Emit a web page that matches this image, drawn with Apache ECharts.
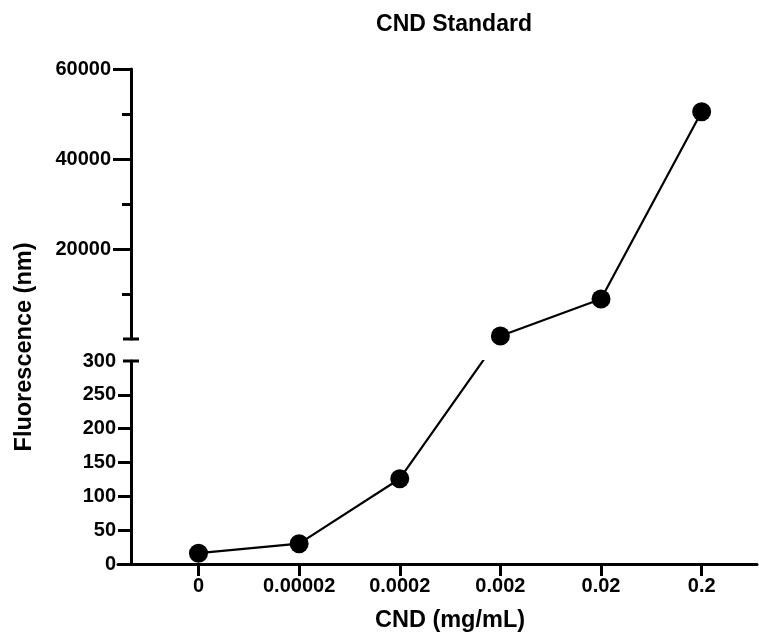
<!DOCTYPE html>
<html>
<head>
<meta charset="utf-8">
<script src="https://cdn.jsdelivr.net/npm/echarts@6.0.0/dist/echarts.min.js"></script>
<style>
html, body { margin: 0; padding: 0; background: #fff; }
#main { width: 759px; height: 636px; }
</style>
</head>
<body>
<div id="main"></div>
<script>
// data
var concentrations = ['0', '0.00002', '0.0002', '0.002', '0.02', '0.2'];
var fluorescence = [16, 30, 126, 650, 8900, 50500];
var lowTicks = [0, 50, 100, 150, 200, 250, 300];
var lowMinorTicks = [50, 100, 150, 200, 250];
var highTicks = [20000, 40000, 60000];
var lowMax = 300;
var highMax = 60000;

var FONT = 'Liberation Sans, Arial, sans-serif';
var xMin = -0.8, xMax = 5.55;
var yAxisShift = 13;

var xIdx = concentrations.map(function (c, i) { return i; });
var lowData = [], highData = [];
fluorescence.forEach(function (v, i) {
    if (v <= lowMax) lowData.push([i, v]);
    else highData.push([i, v]);
});

function labelStyle(extra) {
    var s = { color: '#000', fontFamily: FONT, fontWeight: 'bold', fontSize: 20 };
    for (var k in extra) s[k] = extra[k];
    return s;
}
var blackLine = { color: '#000', width: 3 };

var chart = echarts.init(document.getElementById('main'), null, { renderer: 'canvas' });

var option = {
    animation: false,
    backgroundColor: '#fff',
    title: {
        text: 'CND Standard',
        left: 449,
        top: 8,
        textAlign: 'center',
        textStyle: { color: '#000', fontFamily: FONT, fontWeight: 'bold', fontSize: 23 }
    },
    grid: [
        { left: 118, right: 2, top: 69, bottom: 297 },   // upper part of the broken axis
        { left: 118, right: 2, top: 361, bottom: 72 }    // lower part
    ],
    xAxis: [
        { type: 'value', gridIndex: 0, min: xMin, max: xMax, show: false },
        {
            type: 'value', gridIndex: 1, min: xMin, max: xMax,
            axisLine: { onZero: false, lineStyle: blackLine },
            axisTick: { customValues: xIdx, length: 12, lineStyle: blackLine },
            axisLabel: labelStyle({
                customValues: xIdx,
                margin: 12,
                formatter: function (v) { return concentrations[v]; }
            }),
            splitLine: { show: false },
            name: 'CND (mg/mL)',
            nameLocation: 'middle',
            nameGap: 45,
            nameTextStyle: { color: '#000', fontFamily: FONT, fontWeight: 'bold', fontSize: 23.5, padding: [0, 0, 0, 25] }
        }
    ],
    yAxis: [
        {
            type: 'value', gridIndex: 0, min: 0, max: highMax, interval: 20000,
            offset: -yAxisShift,
            axisLine: { show: true, onZero: false, lineStyle: blackLine },
            axisTick: { customValues: highTicks, length: 18, lineStyle: blackLine },
            minorTick: { show: true, splitNumber: 2, length: 9, lineStyle: blackLine },
            axisLabel: labelStyle({
                customValues: highTicks, margin: 20,
                formatter: function (v) { return String(v); }
            }),
            splitLine: { show: false },
            minorSplitLine: { show: false }
        },
        {
            type: 'value', gridIndex: 1, min: 0, max: lowMax, interval: 50,
            offset: -yAxisShift,
            axisLine: { show: true, onZero: false, lineStyle: blackLine },
            axisTick: { customValues: lowMinorTicks, length: 13, lineStyle: blackLine },
            axisLabel: labelStyle({ customValues: lowTicks, margin: 15 }),
            splitLine: { show: false }
        }
    ],
    series: [
        {
            type: 'line', xAxisIndex: 0, yAxisIndex: 0,
            data: highData,
            symbol: 'circle', symbolSize: 19,
            itemStyle: { color: '#000' },
            lineStyle: { color: '#000', width: 2.2 }
        },
        {
            type: 'line', xAxisIndex: 1, yAxisIndex: 1,
            data: lowData,
            symbol: 'circle', symbolSize: 19,
            itemStyle: { color: '#000' },
            lineStyle: { color: '#000', width: 2.2 }
        }
    ]
};
chart.setOption(option);

// the line crosses the break straight on screen: find where the first upper
// point sits in the lower scale and let the lower series run toward it (clipped)
var first = highData[0];
var px = chart.convertToPixel({ gridIndex: 0 }, first);
var lowVal = chart.convertFromPixel({ gridIndex: 1 }, px)[1];

var axisX = chart.convertToPixel({ xAxisIndex: 1 }, xMin) + yAxisShift;
var yHighBottom = chart.convertToPixel({ yAxisIndex: 0 }, 0);
var yLowTop = chart.convertToPixel({ yAxisIndex: 1 }, lowMax);

chart.setOption({
    series: [{}, { data: lowData.concat([[first[0], lowVal]]) }],
    graphic: [
        { type: 'line', shape: { x1: axisX - 8, y1: yHighBottom, x2: axisX + 8, y2: yHighBottom }, style: { stroke: '#000', lineWidth: 3 } },
        { type: 'line', shape: { x1: axisX - 8, y1: yLowTop, x2: axisX + 8, y2: yLowTop }, style: { stroke: '#000', lineWidth: 3 } },
        {
            type: 'text', x: 25, y: 347, rotation: Math.PI / 2,
            style: {
                text: 'Fluorescence (nm)', fill: '#000',
                font: 'bold 23.5px ' + FONT,
                textAlign: 'center', textVerticalAlign: 'middle'
            }
        }
    ]
});
</script>
</body>
</html>
